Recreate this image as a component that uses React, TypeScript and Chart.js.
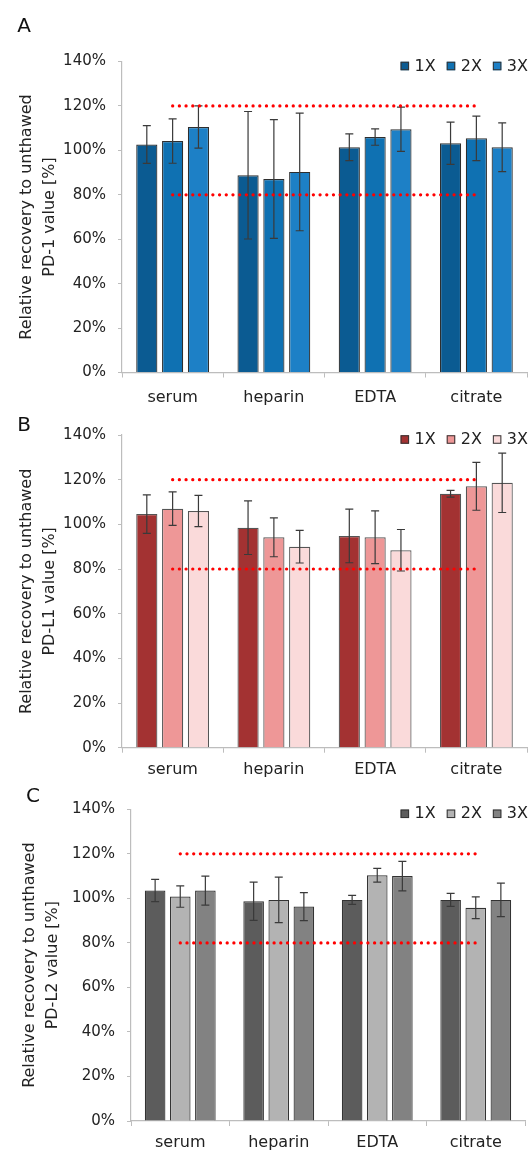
import React, { useEffect, useRef } from 'react';
import { Chart, registerables } from 'chart.js';

Chart.register(...registerables);
Chart.defaults.font.family = "'DejaVu Sans', 'Liberation Sans', sans-serif";

// ---------- data ----------
const categories = ['serum', 'heparin', 'EDTA', 'citrate'];
const seriesLabels = ['1X', '2X', '3X'];
const yTickStep = 20;
const yMin = 0;
const yMax = 140;
const upperLimit = [120, 120, 120, 120];
const lowerLimit = [80, 80, 80, 80];

// Panel A: PD-1
const pd1_1x = [102.6, 88.8, 101.4, 103.2];
const pd1_1x_err = [8.5, 28.7, 6.0, 9.5];
const pd1_2x = [104.2, 87.1, 106.0, 105.4];
const pd1_2x_err = [10.0, 26.7, 3.7, 10.0];
const pd1_3x = [110.5, 90.3, 109.5, 101.4];
const pd1_3x_err = [9.5, 26.5, 10.0, 11.0];

// Panel B: PD-L1
const pdl1_1x = [104.6, 98.5, 94.8, 113.7];
const pdl1_1x_err = [8.6, 12.0, 12.0, 1.5];
const pdl1_2x = [107.0, 94.2, 94.2, 117.0];
const pdl1_2x_err = [7.5, 8.7, 11.8, 10.7];
const pdl1_3x = [106.0, 90.0, 88.4, 118.6];
const pdl1_3x_err = [7.0, 7.3, 9.3, 13.3];

// Panel C: PD-L2
const pdl2_1x = [103.5, 98.7, 99.3, 99.3];
const pdl2_1x_err = [5.0, 8.6, 2.0, 2.9];
const pdl2_2x = [100.8, 99.3, 110.4, 95.8];
const pdl2_2x_err = [4.8, 10.2, 3.1, 4.9];
const pdl2_3x = [103.5, 96.3, 110.0, 99.3];
const pdl2_3x_err = [6.5, 6.3, 6.6, 7.5];

// ---------- plugins ----------
const errorBarPlugin = {
  id: 'errorBars',
  afterDatasetDraw(chart: any, args: any) {
    const ds: any = chart.data.datasets[args.index];
    if (!ds.errorBars) return;
    const y = chart.scales.y;
    const ctx = chart.ctx;
    ctx.save();
    ctx.strokeStyle = '#3a3a3a';
    ctx.lineWidth = 1.2;
    args.meta.data.forEach((bar: any, i: number) => {
      const v = ds.data[i];
      const e = ds.errorBars[i];
      const yt = y.getPixelForValue(v + e);
      const yb = y.getPixelForValue(v - e);
      const x = bar.x;
      ctx.beginPath();
      ctx.moveTo(x, yt);
      ctx.lineTo(x, yb);
      ctx.moveTo(x - 4, yt);
      ctx.lineTo(x + 4, yt);
      ctx.moveTo(x - 4, yb);
      ctx.lineTo(x + 4, yb);
      ctx.stroke();
    });
    ctx.restore();
  },
};

const legendAndLetterPlugin = {
  id: 'legendLetter',
  afterDraw(chart: any) {
    const opts = chart.options.plugins.legendLetter;
    const ctx = chart.ctx;
    ctx.save();
    // panel letter
    ctx.fillStyle = '#111';
    ctx.font = "20px 'DejaVu Sans', sans-serif";
    ctx.textAlign = 'center';
    ctx.textBaseline = 'middle';
    ctx.fillText(opts.letter, opts.letterX, opts.letterY);
    // legend
    const bars = chart.data.datasets.filter((d: any) => d.type !== 'line');
    ctx.font = "16px 'DejaVu Sans', sans-serif";
    ctx.textAlign = 'left';
    const box = 8.5;
    const gapBoxText = 5.5;
    const gapItems = 11;
    let right = opts.legendRight;
    const ly = chart.chartArea.top + opts.legendOffset;
    for (let i = bars.length - 1; i >= 0; i--) {
      const d = bars[i];
      const w = ctx.measureText(d.label).width;
      const tx = right - w;
      const bx = tx - gapBoxText - box;
      ctx.fillStyle = d.backgroundColor;
      ctx.fillRect(bx, ly - box / 2, box, box);
      ctx.strokeStyle = '#333';
      ctx.lineWidth = 1;
      ctx.strokeRect(bx + 0.5, ly - box / 2 + 0.5, box - 1, box - 1);
      ctx.fillStyle = '#222';
      ctx.fillText(d.label, tx, ly + 0.5);
      right = bx - gapItems;
    }
    ctx.restore();
  },
};

// ---------- panel ----------
type PanelProps = {
  height: number;
  chartTop: number;
  chartBottom: number;
  chartLeft: number;
  chartRight: number;
  letter: string;
  letterX: number;
  letterY: number;
  title: string[];
  titlePad: number;
  labelPad: number;
  colors: string[];
  borderColor: string;
  values: number[][];
  errors: number[][];
};

function Panel(p: PanelProps) {
  const ref = useRef<HTMLCanvasElement | null>(null);
  useEffect(() => {
    if (!ref.current) return;
    const W = 532;
    const datasets: any[] = [
      {
        type: 'line',
        label: 'upper',
        data: upperLimit,
        borderColor: '#ff0000',
        borderWidth: 3.2,
        borderDash: [0.1, 6.6],
        borderCapStyle: 'round',
        pointRadius: 0,
        fill: false,
        order: 0,
      },
      {
        type: 'line',
        label: 'lower',
        data: lowerLimit,
        borderColor: '#ff0000',
        borderWidth: 3.2,
        borderDash: [0.1, 6.6],
        borderCapStyle: 'round',
        pointRadius: 0,
        fill: false,
        order: 0,
      },
    ];
    seriesLabels.forEach((lab, i) => {
      datasets.push({
        type: 'bar',
        label: lab,
        data: p.values[i],
        errorBars: p.errors[i],
        backgroundColor: p.colors[i],
        borderColor: p.borderColor,
        borderWidth: 1.2,
        categoryPercentage: 0.765,
        barPercentage: 0.82,
        order: 1,
      });
    });
    const chart = new Chart(ref.current, {
      type: 'bar',
      data: { labels: categories, datasets },
      options: {
        animation: false,
        responsive: false,
        devicePixelRatio: 1,
        layout: {
          padding: { top: p.chartTop, left: 0, right: W - p.chartRight, bottom: 0 },
        },
        plugins: {
          legend: { display: false },
          tooltip: { enabled: false },
          legendLetter: {
            letter: p.letter,
            letterX: p.letterX,
            letterY: p.letterY,
            legendRight: 528,
            legendOffset: 4.5,
          },
        } as any,
        scales: {
          x: {
            afterFit: (s: any) => {
              s.height = p.height - p.chartBottom;
            },
            grid: {
              display: true,
              drawOnChartArea: false,
              drawTicks: true,
              tickLength: 5,
              color: '#bdbdbd',
              offset: true,
            },
            border: { display: true, color: '#bdbdbd', width: 1.2 },
            ticks: { color: '#222', font: { size: 16 }, padding: p.labelPad },
          },
          y: {
            min: yMin,
            max: yMax,
            afterFit: (s: any) => {
              s.width = p.chartLeft;
            },
            grid: {
              display: true,
              drawOnChartArea: false,
              drawTicks: true,
              tickLength: 4,
              color: '#bdbdbd',
            },
            border: { display: true, color: '#bdbdbd', width: 1.2 },
            ticks: {
              stepSize: yTickStep,
              color: '#222',
              font: { size: 15 },
              padding: 12,
              callback: (v: any) => v + '%',
            },
            title: {
              display: true,
              text: p.title,
              color: '#222',
              font: { size: 16, lineHeight: 1.44 },
              padding: { top: p.titlePad, bottom: 0 },
            },
          },
        },
      } as any,
      plugins: [errorBarPlugin, legendAndLetterPlugin],
    });
    return () => chart.destroy();
  }, []);
  return <canvas ref={ref} width={532} height={p.height} style={{ display: 'block', width: 532, height: p.height }} />;
}

export default function App() {
  return (
    <div style={{ position: 'absolute', left: 0, top: 0, width: 532, height: 1152, background: '#fff' }}>
      <Panel
        height={412}
        chartTop={61.5}
        chartBottom={372.5}
        chartLeft={122}
        chartRight={527}
        letter="A"
        letterX={24}
        letterY={27}
        title={['Relative recovery to unthawed', 'PD-1 value [%]']}
        titlePad={15.5}
        labelPad={11}
        colors={['#0b5b92', '#0f71b2', '#1d80c6']}
        borderColor="#2e2e2e"
        values={[pd1_1x, pd1_2x, pd1_3x]}
        errors={[pd1_1x_err, pd1_2x_err, pd1_3x_err]}
      />
      <Panel
        height={370}
        chartTop={23}
        chartBottom={335.7}
        chartLeft={122}
        chartRight={527}
        letter="B"
        letterX={24}
        letterY={13.5}
        title={['Relative recovery to unthawed', 'PD-L1 value [%]']}
        titlePad={15.5}
        labelPad={8}
        colors={['#a33232', '#ee9797', '#fadada']}
        borderColor="#555555"
        values={[pdl1_1x, pdl1_2x, pdl1_3x]}
        errors={[pdl1_1x_err, pdl1_2x_err, pdl1_3x_err]}
      />
      <Panel
        height={370}
        chartTop={27.3}
        chartBottom={339}
        chartLeft={131}
        chartRight={525}
        letter="C"
        letterX={33}
        letterY={15}
        title={['Relative recovery to unthawed', 'PD-L2 value [%]']}
        titlePad={18}
        labelPad={7}
        colors={['#5c5c5c', '#b3b3b3', '#828282']}
        borderColor="#333333"
        values={[pdl2_1x, pdl2_2x, pdl2_3x]}
        errors={[pdl2_1x_err, pdl2_2x_err, pdl2_3x_err]}
      />
    </div>
  );
}
